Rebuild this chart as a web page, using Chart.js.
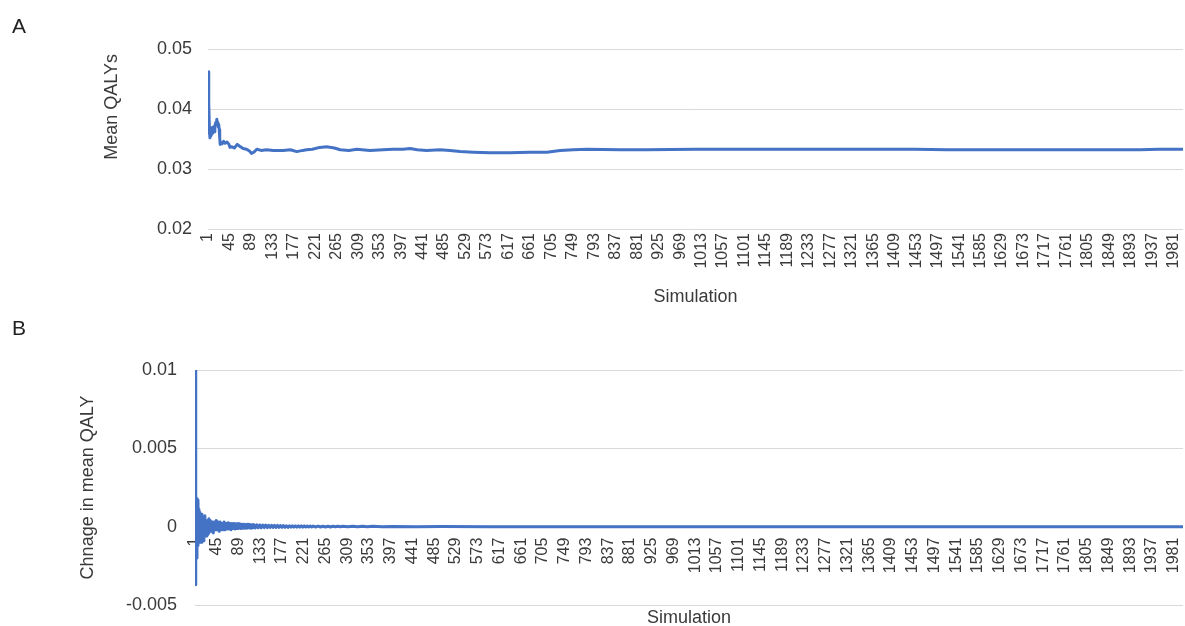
<!DOCTYPE html>
<html>
<head>
<meta charset="utf-8">
<script src="https://cdn.jsdelivr.net/npm/chart.js@4.4.1/dist/chart.umd.min.js"></script>
<style>
  html, body { margin: 0; padding: 0; background: #fff; }
  #wrap { position: relative; width: 1185px; height: 626px; overflow: hidden;
          font-family: 'Liberation Sans', Arial, sans-serif; }
  #wrap canvas { position: absolute; left: 0; }
  #cA { top: 0; }
  #cB { top: 313px; }
  .tag { position: absolute; left: 12px; font-size: 21px; line-height: 21px; color: #222; }
</style>
</head>
<body>
<div id="wrap">
  <canvas id="cA" width="1185" height="313"></canvas>
  <canvas id="cB" width="1185" height="313"></canvas>
  <div class="tag" style="top:15px">A</div>
  <div class="tag" style="top:317px">B</div>
</div>
<script>
// Simulation tick labels shown on both x axes
const simTicks = [1, 45, 89, 133, 177, 221, 265, 309, 353, 397, 441, 485, 529, 573, 617, 661, 705, 749,
  793, 837, 881, 925, 969, 1013, 1057, 1101, 1145, 1189, 1233, 1277, 1321, 1365, 1409, 1453, 1497,
  1541, 1585, 1629, 1673, 1717, 1761, 1805, 1849, 1893, 1937, 1981];

// Panel A: running mean QALYs by simulation
const simA = [1, 2, 3, 4, 5, 6, 7, 8, 9, 10, 11, 12, 13, 14, 15, 16, 17, 18, 19, 20, 21, 22, 23, 24, 25,
  26, 28, 30, 33, 36, 40, 44, 46, 50, 55, 61, 66, 73, 80, 86, 90, 95, 101, 110, 121, 135, 155, 170,
  183, 195, 203, 215, 230, 244, 260, 272, 290, 306, 333, 360, 380, 401, 415, 430, 449, 477, 497, 518,
  545, 579, 600, 620, 660, 696, 723, 750, 778, 846, 900, 1000, 1100, 1200, 1300, 1399, 1450, 1516,
  1600, 1700, 1800, 1912, 1950, 2000];
const meanQALY = [0.0360, 0.0462, 0.0410, 0.0365, 0.0352, 0.0368, 0.0355, 0.0366, 0.0358, 0.0369,
  0.0360, 0.0365, 0.0371, 0.0362, 0.0370, 0.0375, 0.0378, 0.0376, 0.0383, 0.0374, 0.0378, 0.0370,
  0.0374, 0.0366, 0.0352, 0.0341, 0.0344, 0.0342, 0.0346, 0.0343, 0.0345, 0.0341, 0.0336, 0.0337,
  0.0335, 0.0341, 0.0338, 0.0334, 0.0333, 0.0330, 0.0326, 0.0328, 0.0333, 0.0331, 0.0332, 0.0331,
  0.0331, 0.0332, 0.0329, 0.0331, 0.0332, 0.0333, 0.0336, 0.0337, 0.0335, 0.0332, 0.0331, 0.0333,
  0.0331, 0.0332, 0.0333, 0.0333, 0.0334, 0.0332, 0.0331, 0.0332, 0.0331, 0.0329, 0.0328, 0.0327,
  0.0327, 0.0327, 0.0328, 0.0328, 0.0331, 0.0332, 0.0333, 0.0332, 0.0332, 0.0333, 0.0333, 0.0333,
  0.0333, 0.0333, 0.0333, 0.0332, 0.0332, 0.0332, 0.0332, 0.0332, 0.0333, 0.0333];
const yTicksA = [0.02, 0.03, 0.04, 0.05];

// Panel B: change in the running mean between simulations
const simB = [
  1, 2, 3, 4, 5, 6, 7, 8, 9, 10,
  11, 12, 13, 14, 15, 16, 17, 18, 19, 20,
  21, 22, 23, 24, 25, 26, 27, 28, 29, 30,
  32, 34, 36, 38, 40, 42, 44, 46, 48, 50,
  52, 54, 56, 58, 60, 62, 64, 66, 68, 70,
  72, 74, 76, 78, 80, 82, 84, 86, 88, 90,
  92, 94, 96, 98, 100, 102, 104, 106, 108, 110,
  112, 114, 116, 118, 120, 123, 126, 129, 132, 135,
  138, 141, 144, 147, 150, 153, 156, 159, 162, 165,
  168, 171, 174, 177, 180, 183, 186, 189, 192, 195,
  198, 201, 204, 207, 210, 213, 216, 219, 222, 225,
  228, 231, 234, 237, 240, 245, 250, 255, 260, 265,
  270, 275, 280, 285, 290, 295, 300, 310, 320, 330,
  340, 350, 360, 380, 400, 450, 500, 600, 800, 1000,
  1200, 1400, 1600, 1800, 2000];
const changeQALY = [
  0.0100, -0.0037, 0.0012, -0.0020, 0.0018, -0.0012, 0.0017, -0.0009, 0.0011, -0.0010,
  0.0009, -0.0008, 0.0007, -0.0010, 0.0008, -0.0007, 0.0006, -0.0009, 0.0005, -0.0006,
  0.0007, -0.0005, 0.0004, -0.0006, 0.0003, -0.0005, 0.0004, -0.0004, 0.0005, -0.0003,
  0.0004, -0.0003, 0.0003, -0.0004, 0.0003, -0.0002, 0.0004, -0.0002, 0.0003, -0.0003,
  0.0003, -0.0002, 0.0002, -0.0002, 0.0003, -0.0002, 0.0002, -0.00015, 0.00025, -0.00015,
  0.0002, -0.0002, 0.0002, -0.00012, 0.0002, -0.00015, 0.00018, -0.00012, 0.0002, -0.0001,
  0.00018, -0.00012, 0.00015, -0.0001, 0.00016, -0.0001, 0.00014, -0.0001, 0.00015, -0.00008,
  0.00014, -0.0001, 0.00012, -0.00008, 0.00013, -0.00008, 0.00012, -0.00007, 0.00011, -0.00007,
  0.0001, -0.00006, 0.0001, -0.00006, 0.00009, -0.00005, 0.00009, -0.00005, 0.00008, -0.00005,
  0.00008, -0.00004, 0.00007, -0.00004, 0.00007, -0.00004, 0.00006, -0.00004, 0.00006, -0.00003,
  0.00006, -0.00003, 0.00005, -0.00003, 0.00005, -0.00003, 0.00005, -0.00003, 0.00005, -0.00002,
  0.00004, -0.00002, 0.00004, -0.00002, 0.00004, -0.00002, 0.00004, -0.00002, 0.00003, -0.00002,
  0.00003, -0.00002, 0.00003, -0.00001, 0.00003, -0.00001, 0.00003, -0.00001, 0.00002, -0.00001,
  0.00002, -0.00001, 0.00002, -0.00001, 0.00001, -0.00001, 0.00001, 0, 0, 0,
  0, 0, 0, 0, 0];
const yTicksB = [-0.005, 0, 0.005, 0.01];

const FONT = "'Liberation Sans', Arial, sans-serif";
const TEXT = '#3a3a3a';
const LINE = '#4472C4';
const GRID = '#d9d9d9';

const setTicks = (list) => (scale) => { scale.ticks = list.map(v => ({ value: v })); };
const points = (xs, ys) => xs.map((x, i) => ({ x, y: ys[i] }));

// fixed axis sizes keep both plot areas aligned with their labels
const fixHeight = (h) => (s) => { s.height = h; s.paddingLeft = 0; s.paddingRight = 0; };
const fixWidth = (w) => (s) => { s.width = w; s.paddingTop = 0; s.paddingBottom = 0; };

function lineDataset(xs, ys) {
  return {
    data: points(xs, ys),
    borderColor: LINE,
    borderWidth: 3,
    borderJoinStyle: 'round',
    borderCapStyle: 'round',
    pointRadius: 0,
    tension: 0,
    fill: false
  };
}

const common = {
  responsive: false,
  animation: false,
  devicePixelRatio: 1,
  plugins: { legend: { display: false }, tooltip: { enabled: false } }
};

// Panel A
new Chart(document.getElementById('cA'), {
  type: 'line',
  data: { datasets: [lineDataset(simA, meanQALY)] },
  options: {
    ...common,
    layout: { padding: { top: 49, left: 101, right: 2, bottom: 0 } },
    scales: {
      x: {
        type: 'linear', min: 1, max: 2000, position: 'bottom',
        afterBuildTicks: setTicks(simTicks),
        afterFit: fixHeight(84),
        grid: { display: false, drawTicks: false },
        border: { display: false },
        ticks: {
          autoSkip: false, minRotation: 90, maxRotation: 90, padding: 4,
          color: TEXT, font: { family: FONT, size: 16 },
          callback: (v) => String(v)
        },
        title: {
          display: true, text: 'Simulation', color: TEXT,
          font: { family: FONT, size: 18 }, padding: { top: 0, bottom: 5 }
        }
      },
      y: {
        type: 'linear', min: 0.02, max: 0.05,
        afterBuildTicks: setTicks(yTicksA),
        afterFit: fixWidth(107),
        grid: { color: GRID, lineWidth: 1, drawTicks: false },
        border: { display: false },
        ticks: {
          padding: 16, color: TEXT, font: { family: FONT, size: 18 },
          callback: (v) => String(v)
        },
        title: {
          display: true, text: 'Mean QALYs ', align: 'end', color: TEXT,
          font: { family: FONT, size: 18 }, padding: { top: 0, bottom: 0 }
        }
      }
    }
  }
});

// Panel B
new Chart(document.getElementById('cB'), {
  type: 'line',
  data: { datasets: [lineDataset(simB, changeQALY)] },
  options: {
    ...common,
    layout: { padding: { top: 57, left: 77, right: 2, bottom: 0 } },
    scales: {
      x: {
        type: 'linear', min: 1, max: 2000, position: { y: 0 },
        afterBuildTicks: setTicks(simTicks),
        afterFit: fixHeight(0),
        grid: { display: false, drawTicks: false },
        border: { display: false },
        ticks: {
          autoSkip: false, minRotation: 90, maxRotation: 90, padding: 11,
          color: TEXT, font: { family: FONT, size: 16 },
          callback: (v) => String(v)
        }
      },
      x2: {
        type: 'linear', axis: 'x', min: 1, max: 2000, position: 'bottom',
        afterFit: fixHeight(21),
        grid: { display: false, drawTicks: false },
        border: { display: false },
        ticks: { display: false },
        title: {
          display: true, text: 'Simulation', color: TEXT,
          font: { family: FONT, size: 18 }, padding: { top: 0, bottom: -3 }
        }
      },
      y: {
        type: 'linear', min: -0.005, max: 0.01,
        afterBuildTicks: setTicks(yTicksB),
        afterFit: fixWidth(118),
        grid: { color: GRID, lineWidth: 1, drawTicks: false },
        border: { display: false },
        ticks: {
          padding: 18, color: TEXT, font: { family: FONT, size: 18 },
          callback: (v) => String(v)
        },
        title: {
          display: true, text: 'Chnage in mean QALY', color: TEXT,
          font: { family: FONT, size: 18 }, padding: { top: 0, bottom: 0 }
        }
      }
    }
  }
});
</script>
</body>
</html>
